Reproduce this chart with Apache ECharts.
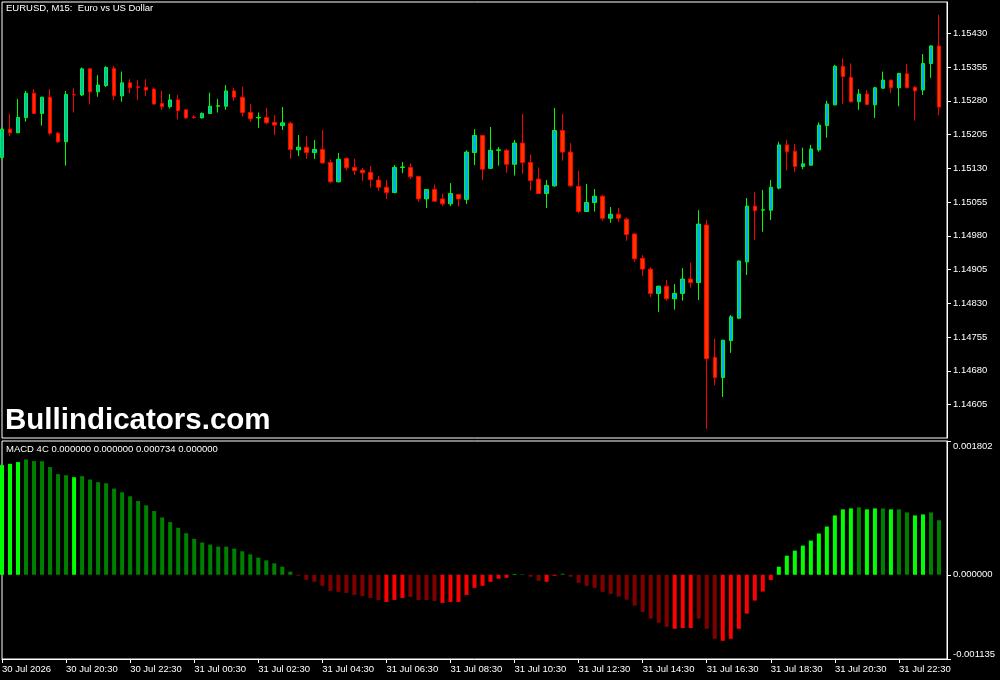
<!DOCTYPE html>
<html><head><meta charset="utf-8">
<script src="https://cdn.jsdelivr.net/npm/echarts@6/dist/echarts.min.js"></script>
<style>html,body{margin:0;padding:0;background:#000;}#c{width:1000px;height:680px;}</style>
</head><body><div id="c"></div>
<script>
// ---- data ----
const chartTitle = 'EURUSD, M15:  Euro vs US Dollar';
const macdLegend = 'MACD 4C 0.000000 0.000000 0.000734 0.000000';
const watermark = 'Bullindicators.com';
const firstBarTime = [2026, 6, 30, 18, 30]; // 30 Jul 2026 18:30, M15 bars
const timeLabels = ['30 Jul 2026','30 Jul 20:30','30 Jul 22:30','31 Jul 00:30','31 Jul 02:30','31 Jul 04:30','31 Jul 06:30','31 Jul 08:30','31 Jul 10:30','31 Jul 12:30','31 Jul 14:30','31 Jul 16:30','31 Jul 18:30','31 Jul 20:30','31 Jul 22:30'];
const priceTicks = [1.14605,1.14680,1.14755,1.14830,1.14905,1.14980,1.15055,1.15130,1.15205,1.15280,1.15355,1.15430];
const priceRange = [1.145307, 1.154996];
const macdTicks = [-0.001135, 0, 0.001802];
const macdRange = [-0.001135, 0.001802];

const opens = [1.15154,1.15217,1.15209,1.15243,1.15297,1.15252,1.15288,1.15208,1.15189,1.15294,
1.15293,1.15351,1.15300,1.15314,1.15352,1.15291,1.15320,1.15311,1.15310,1.15306,
1.15274,1.15267,1.15282,1.15260,1.15244,1.15242,1.15252,1.15268,1.15268,1.15302,
1.15288,1.15254,1.15242,1.15243,1.15232,1.15225,1.15230,1.15171,1.15177,1.15165,
1.15172,1.15143,1.15100,1.15152,1.15132,1.15126,1.15121,1.15104,1.15088,1.15076,
1.15132,1.15132,1.15112,1.15062,1.15083,1.15062,1.15051,1.15072,1.15061,1.15165,
1.15203,1.15130,1.15170,1.15170,1.15139,1.15186,1.15143,1.15106,1.15074,1.15091,
1.15214,1.15166,1.15090,1.15034,1.15054,1.15068,1.15019,1.15028,1.15017,1.14984,
1.14930,1.14906,1.14852,1.14868,1.14840,1.14852,1.14884,1.14876,1.15004,1.14710,
1.14665,1.14747,1.14797,1.14922,1.15046,1.15037,1.15037,1.15086,1.15182,1.15168,
1.15134,1.15137,1.15171,1.15225,1.15271,1.15357,1.15332,1.15278,1.15295,1.15271,
1.15308,1.15326,1.15309,1.15340,1.15310,1.15304,1.15363,1.15402];
const highs = [1.15220,1.15251,1.15284,1.15302,1.15306,1.15289,1.15306,1.15211,1.15302,1.15308,
1.15354,1.15353,1.15337,1.15357,1.15357,1.15345,1.15328,1.15326,1.15328,1.15310,
1.15302,1.15295,1.15293,1.15261,1.15248,1.15254,1.15298,1.15284,1.15315,1.15309,
1.15311,1.15273,1.15254,1.15264,1.15248,1.15266,1.15234,1.15204,1.15202,1.15193,
1.15215,1.15150,1.15164,1.15154,1.15151,1.15131,1.15135,1.15113,1.15104,1.15137,
1.15144,1.15141,1.15113,1.15084,1.15094,1.15074,1.15097,1.15073,1.15170,1.15217,
1.15204,1.15222,1.15177,1.15173,1.15193,1.15251,1.15160,1.15132,1.15104,1.15264,
1.15251,1.15186,1.15124,1.15095,1.15084,1.15071,1.15044,1.15042,1.15021,1.14986,
1.14937,1.14910,1.14869,1.14882,1.14873,1.14908,1.14920,1.15037,1.15015,1.14751,
1.14749,1.14804,1.14925,1.15064,1.15077,1.15082,1.15104,1.15189,1.15193,1.15184,
1.15176,1.15182,1.15232,1.15280,1.15360,1.15374,1.15363,1.15306,1.15304,1.15311,
1.15345,1.15327,1.15342,1.15362,1.15313,1.15384,1.15403,1.15471];
const lows = [1.15150,1.15202,1.15208,1.15234,1.15251,1.15225,1.15204,1.15186,1.15136,1.15254,
1.15291,1.15272,1.15289,1.15311,1.15282,1.15278,1.15297,1.15282,1.15291,1.15271,
1.15260,1.15263,1.15239,1.15240,1.15240,1.15241,1.15251,1.15254,1.15260,1.15280,
1.15245,1.15234,1.15220,1.15228,1.15204,1.15215,1.15151,1.15157,1.15151,1.15151,
1.15140,1.15097,1.15099,1.15125,1.15115,1.15102,1.15087,1.15080,1.15062,1.15075,
1.15119,1.15106,1.15056,1.15042,1.15056,1.15046,1.15046,1.15045,1.15051,1.15137,
1.15104,1.15129,1.15136,1.15120,1.15114,1.15118,1.15080,1.15073,1.15042,1.15089,
1.15147,1.15089,1.15030,1.15033,1.15034,1.15014,1.15009,1.15011,1.14969,1.14922,
1.14891,1.14844,1.14811,1.14836,1.14816,1.14836,1.14865,1.14837,1.14551,1.14648,
1.14622,1.14720,1.14795,1.14893,1.14971,1.14989,1.15015,1.15083,1.15125,1.15122,
1.15128,1.15136,1.15167,1.15198,1.15270,1.15273,1.15276,1.15260,1.15271,1.15242,
1.15307,1.15298,1.15268,1.15308,1.15236,1.15293,1.15331,1.15248];
const closes = [1.15217,1.15209,1.15243,1.15297,1.15252,1.15288,1.15208,1.15189,1.15294,1.15293,
1.15351,1.15300,1.15315,1.15354,1.15291,1.15320,1.15309,1.15310,1.15304,1.15273,
1.15267,1.15282,1.15258,1.15242,1.15243,1.15252,1.15268,1.15269,1.15302,1.15288,
1.15254,1.15240,1.15243,1.15231,1.15226,1.15231,1.15172,1.15177,1.15165,1.15172,
1.15142,1.15100,1.15150,1.15131,1.15125,1.15120,1.15105,1.15088,1.15076,1.15132,
1.15133,1.15111,1.15062,1.15083,1.15057,1.15051,1.15074,1.15062,1.15166,1.15203,
1.15128,1.15170,1.15171,1.15139,1.15186,1.15143,1.15103,1.15074,1.15092,1.15214,
1.15166,1.15091,1.15034,1.15054,1.15068,1.15019,1.15028,1.15019,1.14983,1.14929,
1.14906,1.14852,1.14868,1.14840,1.14852,1.14884,1.14876,1.15006,1.14707,1.14665,
1.14748,1.14800,1.14924,1.15046,1.15036,1.15038,1.15088,1.15182,1.15167,1.15134,
1.15140,1.15173,1.15226,1.15273,1.15357,1.15334,1.15278,1.15295,1.15272,1.15309,
1.15326,1.15309,1.15341,1.15309,1.15302,1.15363,1.15402,1.15266];

const histValues = [0.001477,0.001495,0.001518,0.001554,0.001531,0.001529,0.001450,0.001355,0.001341,0.001314,
0.001328,0.001283,0.001247,0.001233,0.001161,0.001111,0.001057,0.000993,0.000935,0.000858,
0.000772,0.000709,0.000633,0.000560,0.000484,0.000434,0.000407,0.000379,0.000378,0.000352,
0.000316,0.000275,0.000230,0.000194,0.000153,0.000108,0.000041,-0.000014,-0.000068,-0.000095,
-0.000149,-0.000217,-0.000230,-0.000244,-0.000271,-0.000285,-0.000312,-0.000339,-0.000366,-0.000339,
-0.000312,-0.000298,-0.000339,-0.000339,-0.000352,-0.000379,-0.000366,-0.000366,-0.000271,-0.000176,
-0.000149,-0.000095,-0.000054,-0.000041,0.000007,0.000007,-0.000027,-0.000081,-0.000095,-0.000014,
0.000014,-0.000027,-0.000108,-0.000149,-0.000176,-0.000230,-0.000257,-0.000294,-0.000335,-0.000416,
-0.000501,-0.000592,-0.000646,-0.000701,-0.000728,-0.000718,-0.000718,-0.000592,-0.000728,-0.000863,
-0.000890,-0.000863,-0.000728,-0.000524,-0.000348,-0.000226,-0.000072,0.000108,0.000257,0.000325,
0.000393,0.000461,0.000556,0.000650,0.000799,0.000881,0.000894,0.000908,0.000881,0.000894,
0.000894,0.000881,0.000881,0.000840,0.000799,0.000813,0.000840,0.000734];
// 1 = strong (bright) colour state of the 4C histogram, 0 = weak (dark)
const histStrong = [1,1,1,0,0,0,0,0,0,1,
0,0,0,0,0,0,0,0,0,0,
0,0,0,0,0,0,0,0,0,0,
0,0,0,0,0,0,0,0,0,0,
0,0,0,0,0,0,0,0,1,1,
1,0,0,0,0,1,1,1,1,1,
1,1,1,1,1,0,0,0,1,1,
0,0,0,0,0,0,0,0,0,0,
0,0,0,0,1,1,1,0,0,0,
1,1,1,1,1,1,1,1,1,1,
1,1,1,1,1,1,1,0,1,1,
0,1,0,0,1,1,0,0];

// ---- build ----
const categories = [];
const t0 = Date.UTC(firstBarTime[0], firstBarTime[1], firstBarTime[2], firstBarTime[3], firstBarTime[4]);
for (let i = 0; i <= opens.length; i++) {
  const d = new Date(t0 + i * 15 * 60000);
  categories.push(d.toISOString().slice(0, 16).replace('T', ' '));
}
const candleData = opens.map((o, i) => [o, closes[i], lows[i], highs[i]]);

const FONT = 'Liberation Sans';
const WHITE = '#FFFFFF';
const labelEvery = 8;
const showTimeTick = (idx) => idx % labelEvery === 0 && idx / labelEvery < timeLabels.length;

const chart = echarts.init(document.getElementById('c'), null, {renderer: 'canvas'});
chart.setOption({
  backgroundColor: '#000000',
  animation: false,
  textStyle: {fontFamily: FONT},
  title: [
    {text: chartTitle, left: 6, top: 3, padding: 0,
     textStyle: {color: WHITE, fontSize: 9.5, fontWeight: 'normal', fontFamily: FONT}},
    {text: macdLegend, left: 6, top: 444, padding: 0,
     textStyle: {color: WHITE, fontSize: 9.5, fontWeight: 'normal', fontFamily: FONT}},
    {text: watermark, left: 5, top: 406, padding: 0,
     textStyle: {color: WHITE, fontSize: 29.5, fontWeight: 'bold', fontFamily: FONT}}
  ],
  grid: [
    {left: 2, top: 2, width: 945, height: 436, show: true, borderColor: WHITE, borderWidth: 1,
     backgroundColor: 'transparent', containLabel: false, outerBoundsMode: 'none'},
    {left: 2, top: 441, width: 945, height: 218, show: true, borderColor: WHITE, borderWidth: 1,
     backgroundColor: 'transparent', containLabel: false, outerBoundsMode: 'none'}
  ],
  xAxis: [
    {type: 'category', gridIndex: 0, data: categories, boundaryGap: false, show: false},
    {type: 'category', gridIndex: 1, data: categories, boundaryGap: false, position: 'bottom',
     axisLine: {show: true, onZero: false, lineStyle: {color: WHITE, width: 1}},
     axisTick: {show: true, length: 4, lineStyle: {color: WHITE}, interval: showTimeTick},
     axisLabel: {show: true, color: WHITE, fontSize: 9.5, fontFamily: FONT, align: 'left', margin: 5,
       interval: showTimeTick,
       formatter: (v, idx) => timeLabels[idx / labelEvery] || '', hideOverlap: false},
     splitLine: {show: false}}
  ],
  yAxis: [
    {type: 'value', gridIndex: 0, position: 'right', min: priceRange[0], max: priceRange[1], scale: true,
     axisLine: {show: true, lineStyle: {color: WHITE}},
     axisTick: {show: true, length: 4, lineStyle: {color: WHITE}, customValues: priceTicks},
     axisLabel: {show: true, color: WHITE, fontSize: 9.5, fontFamily: FONT, margin: 6,
       customValues: priceTicks, formatter: (v) => v.toFixed(5), hideOverlap: false},
     splitLine: {show: false}},
    {type: 'value', gridIndex: 1, position: 'right', min: macdRange[0], max: macdRange[1],
     axisLine: {show: true, lineStyle: {color: WHITE}},
     axisTick: {show: true, length: 4, lineStyle: {color: WHITE}, customValues: macdTicks},
     axisLabel: {show: true, color: WHITE, fontSize: 9.5, fontFamily: FONT, margin: 6,
       customValues: macdTicks, formatter: (v) => v.toFixed(6), hideOverlap: false,
       verticalAlignMaxLabel: 'top', verticalAlignMinLabel: 'bottom'},
     splitLine: {show: false}}
  ],
  series: [
    {type: 'candlestick', xAxisIndex: 0, yAxisIndex: 0, data: candleData, barWidth: 4,
     emphasis: {disabled: true},
     itemStyle: {color: '#00AAFF', color0: '#FF3300', borderColor: '#00FF00', borderColor0: '#FF0000', borderWidth: 1}},
    {type: 'bar', xAxisIndex: 1, yAxisIndex: 1, data: histValues, barWidth: 4,
     emphasis: {disabled: true},
     itemStyle: {color: (p) => {
       const v = histValues[p.dataIndex], s = histStrong[p.dataIndex];
       if (v >= 0) return s ? '#00FF00' : '#008000';
       return s ? '#FF0000' : '#800000';
     }}}
  ]
});
</script>
</body></html>
